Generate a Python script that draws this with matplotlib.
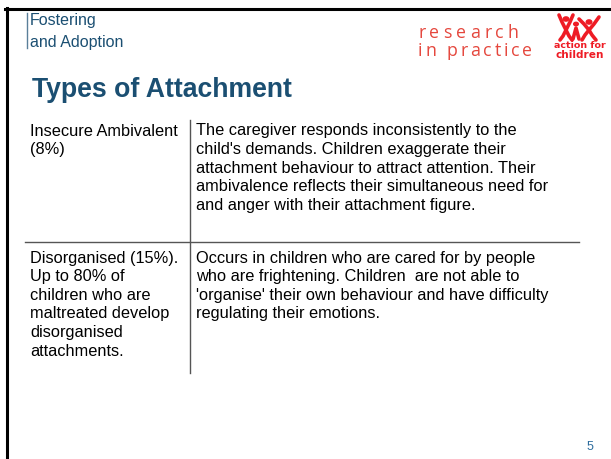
import matplotlib.pyplot as plt
from matplotlib.lines import Line2D
from matplotlib.patches import Circle
from matplotlib.font_manager import FontProperties

# Slide content
header_lines = ["Fostering", "and Adoption"]
brand_lines = ["research", "in practice"]
brand_widths = [101, 114]   # px span of each brand line in the slide
logo_lines = ["action for", "children"]
title = "Types of Attachment"
row_labels = [
    ["Insecure Ambivalent", "(8%)"],
    ["Disorganised (15%).", "Up to 80% of", "children who are",
     "maltreated develop", "disorganised", "attachments."],
]
row_texts = [
    ["The caregiver responds inconsistently to the",
     "child's demands. Children exaggerate their",
     "attachment behaviour to attract attention. Their",
     "ambivalence reflects their simultaneous need for",
     "and anger with their attachment figure."],
    ["Occurs in children who are cared for by people",
     "who are frightening. Children  are not able to",
     "'organise' their own behaviour and have difficulty",
     "regulating their emotions."],
]
page_number = "5"

W, H = 611, 459
BLUE = '#1b4f72'
RED = '#e5473d'
LOGO_RED = '#ee1c25'

fig = plt.figure(figsize=(W / 100, H / 100), dpi=100)
fig.patch.set_facecolor('white')
renderer = fig.canvas.get_renderer()


def fx(x):
    return x / W


def fy(y):
    return 1 - y / H


def hline(x0, x1, y, **kw):
    fig.add_artist(Line2D([fx(x0), fx(x1)], [fy(y), fy(y)], **kw))


def vline(x, y0, y1, **kw):
    fig.add_artist(Line2D([fx(x), fx(x)], [fy(y0), fy(y1)], **kw))


def tracked_text(x, y, s, width, prop, color):
    # spread the letters so the line fills the given width (letter-spacing)
    widths = [renderer.get_text_width_height_descent(c, prop, ismath=False)[0]
              for c in s]
    track = (width - sum(widths)) / (len(s) - 1)
    pos = x
    for c, w in zip(s, widths):
        if c != ' ':
            fig.text(fx(pos), fy(y), c, fontproperties=prop, color=color,
                     va='baseline', ha='left')
        pos += w + track


# slide frame (top and left edges)
hline(5, 611, 8.5, color='black', lw=2.2)
vline(6.5, 8, 459, color='black', lw=2.2)

# header
vline(27, 13, 48, color='#5a7f99', lw=1.0)
for i, s in enumerate(header_lines):
    fig.text(fx(30), fy(21 + i * 21), s, fontsize=11.5, color=BLUE,
             family='Liberation Sans', va='center', ha='left')

brand_prop = FontProperties(family='Open Sans', size=12.8)
for i, s in enumerate(brand_lines):
    tracked_text(418, 38 + i * 17.6, s, brand_widths[i], brand_prop, RED)

# action for children logo: three little figures with raised arms
strokes = [
    ([559, 562, 566, 570, 573], [15, 22, 30, 22, 15]),
    ([566, 563, 560], [30, 36, 40]),
    ([566, 569, 572], [30, 36, 40]),
    ([573, 576, 579], [39, 28, 39]),
    ([579, 584, 589, 594, 599], [19, 24, 30, 24, 17]),
    ([589, 585, 582], [30, 35, 40]),
    ([589, 592, 596], [30, 35, 40]),
]
for xs, ys in strokes:
    fig.add_artist(Line2D([fx(x) for x in xs], [fy(y) for y in ys],
                          color=LOGO_RED, lw=2.6, solid_capstyle='round',
                          solid_joinstyle='round'))
for cx, cy, r in [(566, 19, 2.8), (576, 24, 2.3), (589, 22, 2.8)]:
    fig.add_artist(Circle((fx(cx), fy(cy)), r / W, color=LOGO_RED,
                          transform=fig.transFigure))
fig.text(fx(580), fy(46), logo_lines[0], fontsize=6.8, color=LOGO_RED,
         family='Liberation Sans Narrow', weight='bold', ha='center', va='center')
fig.text(fx(580), fy(54.5), logo_lines[1], fontsize=7.6, color=LOGO_RED,
         family='Liberation Sans Narrow', weight='bold', ha='center', va='center')

# title
fig.text(fx(32), fy(90), title, fontsize=19.2, color=BLUE, weight='bold',
         family='Liberation Sans', va='center', ha='left')

# table
vline(190, 120, 373, color='#555555', lw=1.0)
hline(25, 579, 242, color='#555555', lw=1.0)

row_tops = [131, 258]
line_h = 18.6
for top, labels, texts in zip(row_tops, row_labels, row_texts):
    for i, s in enumerate(labels):
        fig.text(fx(30), fy(top + i * line_h), s, fontsize=11.8,
                 family='Liberation Sans', va='center', ha='left')
    for i, s in enumerate(texts):
        fig.text(fx(196), fy(top + i * line_h), s, fontsize=11.8,
                 family='Liberation Sans', va='center', ha='left')

fig.text(fx(590), fy(447), page_number, fontsize=9, color='#2e6d9e',
         family='Liberation Sans', va='center', ha='center')

fig.savefig('out.png', dpi=100)
